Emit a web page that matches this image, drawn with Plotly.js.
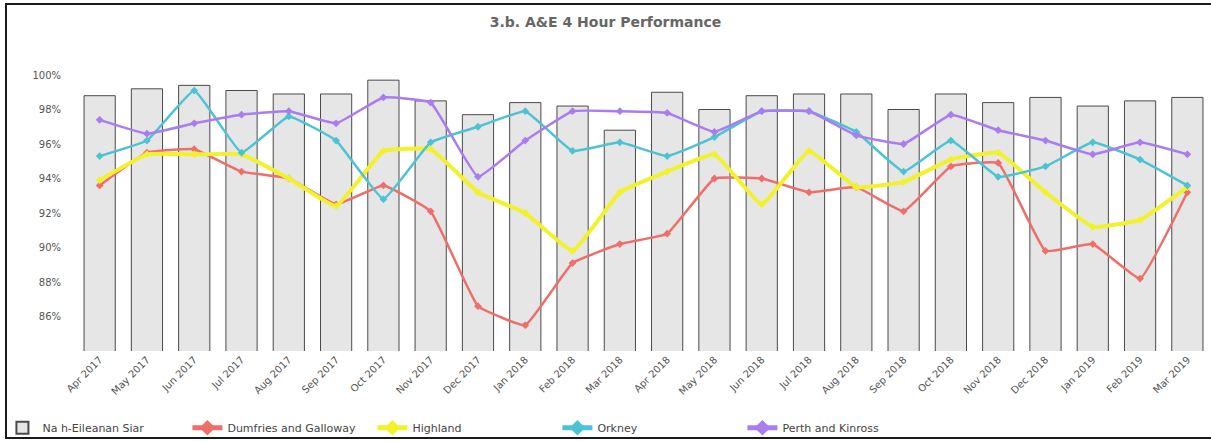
<!DOCTYPE html>
<html>
<head>
<meta charset="utf-8">
<script src="https://cdn.plot.ly/plotly-3.0.1.min.js"></script>
<style>
  html, body { margin: 0; padding: 0; background: #fff; }
  #chart { position: absolute; left: 0; top: 0; width: 1211px; height: 441px; }
  #frame { position: absolute; left: 5px; top: 3px; width: 1215px; height: 432px;
           border: 2px solid #1a1a1a; pointer-events: none; }
</style>
</head>
<body>
<div id="chart"></div>
<div id="frame"></div>
<script>
const months = ["Apr 2017","May 2017","Jun 2017","Jul 2017","Aug 2017","Sep 2017","Oct 2017","Nov 2017",
  "Dec 2017","Jan 2018","Feb 2018","Mar 2018","Apr 2018","May 2018","Jun 2018","Jul 2018",
  "Aug 2018","Sep 2018","Oct 2018","Nov 2018","Dec 2018","Jan 2019","Feb 2019","Mar 2019"];

const eileananSiar = [98.8,99.2,99.4,99.1,98.9,98.9,99.7,98.5,97.7,98.4,98.2,96.8,
  99.0,98.0,98.8,98.9,98.9,98.0,98.9,98.4,98.7,98.2,98.5,98.7];
const dumfriesGalloway = [93.6,95.5,95.7,94.4,94.0,92.5,93.6,92.1,86.6,85.5,89.1,90.2,
  90.8,94.0,94.0,93.2,93.5,92.1,94.7,94.9,89.8,90.2,88.2,93.2];
const highland = [93.9,95.4,95.4,95.4,94.0,92.4,95.6,95.7,93.2,92.0,89.8,93.2,
  94.4,95.4,92.5,95.6,93.5,93.8,95.1,95.5,93.2,91.2,91.6,93.5];
const orkney = [95.3,96.2,99.1,95.5,97.6,96.2,92.8,96.1,97.0,97.9,95.6,96.1,
  95.3,96.4,97.9,97.9,96.7,94.4,96.2,94.1,94.7,96.1,95.1,93.6];
const perthKinross = [97.4,96.6,97.2,97.7,97.9,97.2,98.7,98.4,94.1,96.2,97.9,97.9,
  97.8,96.7,97.9,97.9,96.5,96.0,97.7,96.8,96.2,95.4,96.1,95.4];

const yTicks = [86,88,90,92,94,96,98,100];
const yTickText = yTicks.map(v => v + "%");

function lineTrace(name, y, color, width) {
  return {
    type: "scatter", mode: "lines+markers", name: name, x: months, y: y,
    line: { color: color, width: width, shape: "spline", smoothing: 0.3 },
    marker: { color: color, size: 6, symbol: "diamond" },
    hovertemplate: "%{x}: %{y:.1f}%<extra>" + name + "</extra>"
  };
}

const data = [
  {
    type: "bar", name: "Na h-Eileanan Siar", x: months, y: eileananSiar,
    marker: { color: "#e6e6e6", line: { color: "#4a4a4a", width: 1 } },
    width: 0.66,
    hovertemplate: "%{x}: %{y:.1f}%<extra>Na h-Eileanan Siar</extra>"
  },
  lineTrace("Dumfries and Galloway", dumfriesGalloway, "#ee6e6a", 2.5),
  lineTrace("Highland", highland, "#f2f22a", 4),
  lineTrace("Orkney", orkney, "#4cc3d3", 2.5),
  lineTrace("Perth and Kinross", perthKinross, "#a97cf0", 2.5)
];

const layout = {
  width: 1211, height: 441,
  margin: { l: 76, r: 0, t: 75, b: 90 },
  paper_bgcolor: "#ffffff", plot_bgcolor: "#ffffff",
  font: { family: "DejaVu Sans, Arial, sans-serif", size: 10, color: "#555" },
  title: {
    text: "3.b. A&E 4 Hour Performance",
    font: { family: "DejaVu Sans, Arial, sans-serif", size: 14, color: "#666", weight: "bold" },
    x: 0.5, xanchor: "center", y: 0.95, yanchor: "middle"
  },
  xaxis: {
    type: "category", tickangle: -45, showgrid: false, zeroline: false,
    showline: false, ticks: "", tickfont: { size: 10, color: "#555" },
    range: [-0.5, 23.5]
  },
  yaxis: {
    range: [84, 100], tickvals: yTicks, ticktext: yTickText,
    showgrid: false, zeroline: false, showline: false,
    ticks: "outside", ticklen: 12, tickcolor: "rgba(0,0,0,0)",
    tickfont: { size: 10, color: "#555" }
  },
  showlegend: true,
  legend: {
    orientation: "h", xref: "container", yref: "container",
    x: 0.002, xanchor: "left", y: 0.03, yanchor: "middle",
    entrywidth: 140, entrywidthmode: "pixels",
    font: { size: 11, color: "#444" },
    itemsizing: "constant", traceorder: "normal"
  }
};

Plotly.newPlot("chart", data, layout, { displayModeBar: false, staticPlot: true });
</script>
</body>
</html>
